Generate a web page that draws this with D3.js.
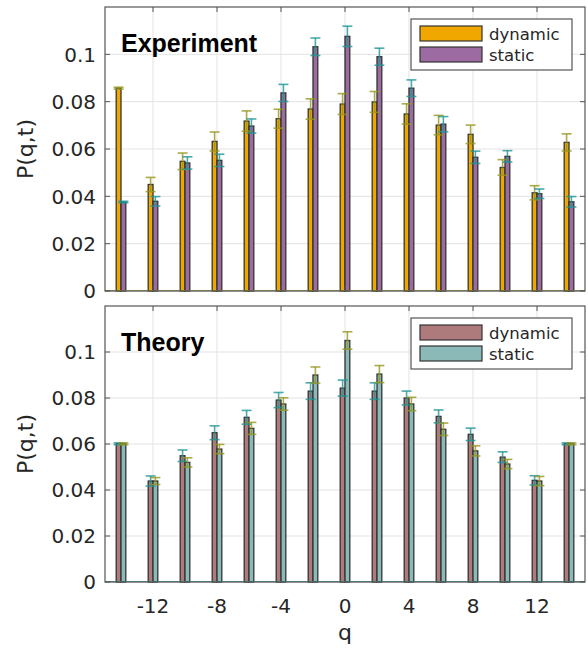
<!DOCTYPE html>
<html>
<head>
<meta charset="utf-8">
<script src="https://cdn.jsdelivr.net/npm/d3@7"></script>
<style>
  body { margin: 0; background: #fff; }
  svg { display: block; }
  .tick-label { font-family: 'DejaVu Sans', sans-serif; font-size: 20px; fill: #262626; }
</style>
</head>
<body>
<svg id="chart"></svg>
<script>
const qValues = [-14, -12, -10, -8, -6, -4, -2, 0, 2, 4, 6, 8, 10, 12, 14]

const expDynamic = [0.0857, 0.045, 0.0548, 0.0632, 0.0718, 0.0728, 0.0769, 0.079, 0.0799, 0.0748, 0.0701, 0.0662, 0.0522, 0.0415, 0.0628]
const expDynamicErr = [0.0004, 0.003, 0.0035, 0.004, 0.0043, 0.004, 0.0043, 0.0044, 0.0044, 0.0043, 0.0041, 0.0039, 0.0033, 0.003, 0.0036]
const expStatic = [0.0376, 0.0379, 0.0541, 0.0552, 0.0697, 0.0837, 0.1032, 0.1076, 0.099, 0.0857, 0.0705, 0.0565, 0.0569, 0.0411, 0.0377]
const expStaticErr = [0.0003, 0.002, 0.0026, 0.0026, 0.003, 0.0036, 0.0037, 0.0043, 0.0036, 0.0035, 0.0032, 0.0026, 0.0024, 0.002, 0.0022]

const theoryDynamic = [0.0601, 0.0439, 0.0549, 0.0649, 0.0716, 0.0791, 0.083, 0.0843, 0.083, 0.08, 0.072, 0.0642, 0.0543, 0.0442, 0.0601]
const theoryDynamicErr = [0.0004, 0.0022, 0.0025, 0.003, 0.003, 0.0033, 0.0036, 0.0035, 0.0036, 0.003, 0.0028, 0.0027, 0.0023, 0.002, 0.0004]
const theoryStatic = [0.0601, 0.0439, 0.052, 0.0578, 0.0668, 0.0774, 0.09, 0.105, 0.0904, 0.0774, 0.0664, 0.057, 0.0513, 0.0439, 0.0601]
const theoryStaticErr = [0.0004, 0.0015, 0.002, 0.002, 0.0026, 0.0027, 0.0035, 0.0038, 0.0037, 0.0029, 0.0027, 0.0022, 0.002, 0.002, 0.0004]

const xTicks = [-12, -8, -4, 0, 4, 8, 12]
const yTicks = [0, 0.02, 0.04, 0.06, 0.08, 0.1]
const seriesNames = ['dynamic', 'static']

const WIDTH = 588
const HEIGHT = 651
const LEFT = 105
const RIGHT = 585
const BAR_W = 0.3
const OLIVE = 'rgba(150,150,30,0.8)'
const TEAL = 'rgba(30,150,150,0.8)'

const svg = d3.select('#chart').attr('width', WIDTH).attr('height', HEIGHT)

const xScale = d3.scaleLinear().domain([-15, 15]).range([LEFT, RIGHT])

const panels = [
  { title: 'Experiment', top: 7, bottom: 291, showX: false,
    series: [
      { values: expDynamic, errs: expDynamicErr, fill: '#F0A800', errColor: OLIVE },
      { values: expStatic, errs: expStaticErr, fill: '#9B6BA2', errColor: TEAL }
    ] },
  { title: 'Theory', top: 306, bottom: 582, showX: true,
    series: [
      { values: theoryDynamic, errs: theoryDynamicErr, fill: '#AD7B7B', errColor: TEAL },
      { values: theoryStatic, errs: theoryStaticErr, fill: '#8AB9B7', errColor: OLIVE }
    ] }
]

panels.forEach(drawPanel)

function drawPanel(p) {
  const yScale = d3.scaleLinear().domain([0, 0.12]).range([p.bottom, p.top])
  const g = svg.append('g')

  // grid
  g.selectAll('.gx').data(xTicks).enter().append('line')
    .attr('x1', d => xScale(d)).attr('x2', d => xScale(d))
    .attr('y1', p.top).attr('y2', p.bottom)
    .attr('stroke', '#e3e3e3').attr('stroke-width', 1)
  g.selectAll('.gy').data(yTicks).enter().append('line')
    .attr('x1', LEFT).attr('x2', RIGHT)
    .attr('y1', d => yScale(d)).attr('y2', d => yScale(d))
    .attr('stroke', '#e3e3e3').attr('stroke-width', 1)

  // bars
  p.series.forEach((s, si) => {
    const off = si === 0 ? -BAR_W : 0
    g.selectAll('.bar' + si).data(qValues).enter().append('rect')
      .attr('x', d => xScale(d + off))
      .attr('width', xScale(BAR_W) - xScale(0))
      .attr('y', (d, i) => yScale(s.values[i]))
      .attr('height', (d, i) => p.bottom - yScale(s.values[i]))
      .attr('fill', s.fill)
      .attr('stroke', '#333')
      .attr('stroke-width', 1.3)
  })

  // baseline trace
  g.append('line')
    .attr('x1', LEFT).attr('x2', RIGHT)
    .attr('y1', p.bottom - 0.5).attr('y2', p.bottom - 0.5)
    .attr('stroke', p.series[0].errColor).attr('stroke-width', 1.2)

  // error bars
  p.series.forEach((s, si) => {
    const off = si === 0 ? -BAR_W / 2 : BAR_W / 2
    const eb = g.selectAll('.eb' + si).data(qValues).enter().append('g')
      .attr('stroke', s.errColor).attr('stroke-width', 1.6).attr('fill', 'none')
    eb.append('line')
      .attr('x1', d => xScale(d + off)).attr('x2', d => xScale(d + off))
      .attr('y1', (d, i) => yScale(s.values[i] - s.errs[i]))
      .attr('y2', (d, i) => yScale(s.values[i] + s.errs[i]))
    ;[-1, 1].forEach(sign => {
      eb.append('line')
        .attr('x1', d => xScale(d + off) - 5).attr('x2', d => xScale(d + off) + 5)
        .attr('y1', (d, i) => yScale(s.values[i] + sign * s.errs[i]))
        .attr('y2', (d, i) => yScale(s.values[i] + sign * s.errs[i]))
    })
  })

  // axes box and ticks
  g.append('rect')
    .attr('x', LEFT).attr('y', p.top)
    .attr('width', RIGHT - LEFT).attr('height', p.bottom - p.top)
    .attr('fill', 'none').attr('stroke', '#555').attr('stroke-width', 1.2)

  const tickLen = 5
  xTicks.forEach(t => {
    g.append('line').attr('x1', xScale(t)).attr('x2', xScale(t))
      .attr('y1', p.bottom).attr('y2', p.bottom - tickLen).attr('stroke', '#555')
    g.append('line').attr('x1', xScale(t)).attr('x2', xScale(t))
      .attr('y1', p.top).attr('y2', p.top + tickLen).attr('stroke', '#555')
  })
  yTicks.forEach(t => {
    g.append('line').attr('x1', LEFT).attr('x2', LEFT + tickLen)
      .attr('y1', yScale(t)).attr('y2', yScale(t)).attr('stroke', '#555')
    g.append('line').attr('x1', RIGHT).attr('x2', RIGHT - tickLen)
      .attr('y1', yScale(t)).attr('y2', yScale(t)).attr('stroke', '#555')
  })

  g.selectAll('.ylab').data(yTicks).enter().append('text')
    .attr('class', 'tick-label')
    .attr('x', LEFT - 9)
    .attr('y', d => yScale(d))
    .attr('dy', '0.36em')
    .attr('text-anchor', 'end')
    .text(d => d3.format('~g')(d))

  if (p.showX) {
    g.selectAll('.xlab').data(xTicks).enter().append('text')
      .attr('class', 'tick-label')
      .attr('x', d => xScale(d))
      .attr('y', p.bottom + 31)
      .attr('text-anchor', 'middle')
      .text(d => d)
    g.append('text')
      .attr('x', xScale(0)).attr('y', p.bottom + 58)
      .attr('text-anchor', 'middle')
      .attr('font-family', 'DejaVu Sans, sans-serif').attr('font-size', 22)
      .attr('fill', '#262626')
      .text('q')
  }

  g.append('text')
    .attr('transform', `translate(33, ${(p.top + p.bottom) / 2}) rotate(-90)`)
    .attr('text-anchor', 'middle')
    .attr('font-family', 'DejaVu Sans, sans-serif').attr('font-size', 22)
    .attr('fill', '#262626')
    .text('P(q,t)')

  g.append('text')
    .attr('x', 121).attr('y', p.top + 45)
    .attr('font-family', 'Liberation Sans, Arial, sans-serif')
    .attr('font-weight', 'bold').attr('font-size', 25)
    .attr('fill', '#000')
    .text(p.title)

  // legend
  const lx = 411, ly = p.top + 12
  const lg = g.append('g')
  lg.append('rect').attr('x', lx).attr('y', ly).attr('width', 161).attr('height', 51)
    .attr('fill', '#fff').attr('stroke', '#555').attr('stroke-width', 1.2)
  p.series.forEach((s, si) => {
    lg.append('rect')
      .attr('x', lx + 9).attr('y', ly + 7 + si * 21)
      .attr('width', 62).attr('height', 15)
      .attr('fill', s.fill).attr('stroke', '#333').attr('stroke-width', 1.2)
    lg.append('text')
      .attr('x', lx + 78).attr('y', ly + 15 + si * 21)
      .attr('dy', '0.36em')
      .attr('font-family', 'DejaVu Sans, sans-serif').attr('font-size', 16.5)
      .attr('fill', '#262626')
      .text(seriesNames[si])
  })
}
</script>
</body>
</html>
